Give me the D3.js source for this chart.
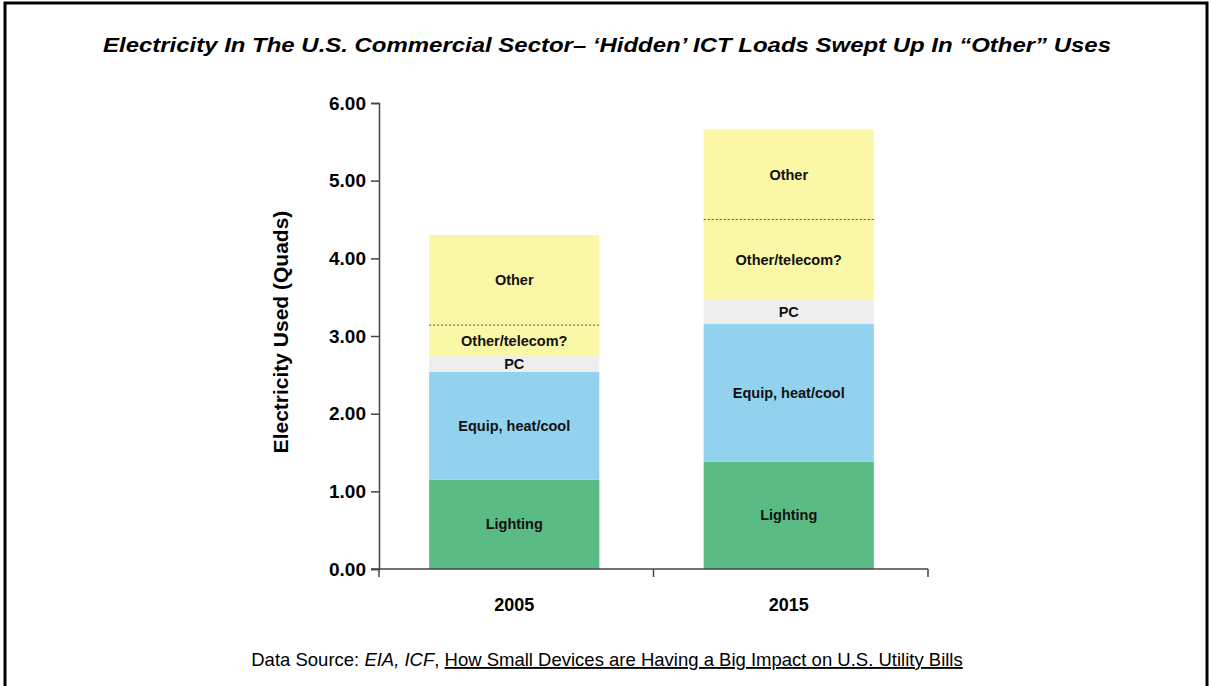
<!DOCTYPE html>
<html>
<head>
<meta charset="utf-8">
<script src="https://cdn.jsdelivr.net/npm/d3@7"></script>
<style>
  html, body { margin: 0; padding: 0; background: #fff; }
  svg { display: block; font-family: "Liberation Sans", Arial, Helvetica, sans-serif; }
</style>
</head>
<body>
<svg id="chart" width="1209" height="686"></svg>
<script>
// Commercial-sector electricity use by end use (quads)
const years = ["2005", "2015"];
const lighting = [1.15, 1.38];
const equipHeatCool = [1.39, 1.78];
const pc = [0.20, 0.31];
const otherTelecom = [0.40, 1.03];
const other = [1.16, 1.16];

const seriesKeys = ["lighting", "equip", "pc", "otherTelecom", "other"];
const seriesLabels = ["Lighting", "Equip, heat/cool", "PC", "Other/telecom?", "Other"];
const seriesColors = ["#5bbb85", "#92d2ee", "#eeeeee", "#faf7a7", "#faf7a7"];
const yTicks = [0, 1, 2, 3, 4, 5, 6];

const rows = years.map((y, i) => ({
  year: y,
  lighting: lighting[i],
  equip: equipHeatCool[i],
  pc: pc[i],
  otherTelecom: otherTelecom[i],
  other: other[i]
}));

const svg = d3.select("#chart");

// Frame
svg.append("rect")
  .attr("x", 5).attr("y", 3)
  .attr("width", 1202).attr("height", 700)
  .attr("fill", "none").attr("stroke", "#000").attr("stroke-width", 3);

// Title
svg.append("text")
  .attr("x", 607).attr("y", 52)
  .attr("text-anchor", "middle")
  .attr("font-size", 21).attr("font-weight", "bold").attr("font-style", "italic")
  .attr("textLength", 1008).attr("lengthAdjust", "spacingAndGlyphs")
  .attr("fill", "#000")
  .text("Electricity In The U.S. Commercial Sector\u2013 \u2018Hidden\u2019 ICT Loads Swept Up In \u201COther\u201D Uses");

const x = d3.scaleBand().domain(years).range([379, 928]).padding(0);
const y = d3.scaleLinear().domain([0, 6]).range([569, 103]);
const barW = x.bandwidth() * 0.62;
const barX = d => x(d) + (x.bandwidth() - barW) / 2 - 2;

const stacked = d3.stack().keys(seriesKeys)(rows);

const g = svg.append("g");
stacked.forEach((layer, li) => {
  layer.forEach(seg => {
    const yr = seg.data.year;
    g.append("rect")
      .attr("x", barX(yr))
      .attr("y", y(seg[1]))
      .attr("width", barW)
      .attr("height", y(seg[0]) - y(seg[1]))
      .attr("fill", seriesColors[li]);
  });
});

// Dashed divider between "Other/telecom?" and "Other"
stacked[4].forEach(seg => {
  const yr = seg.data.year;
  g.append("line")
    .attr("x1", barX(yr)).attr("x2", barX(yr) + barW)
    .attr("y1", y(seg[0])).attr("y2", y(seg[0]))
    .attr("stroke", "#555").attr("stroke-width", 1)
    .attr("stroke-dasharray", "2,2");
});

// Segment labels
stacked.forEach((layer, li) => {
  layer.forEach(seg => {
    const yr = seg.data.year;
    g.append("text")
      .attr("x", barX(yr) + barW / 2)
      .attr("y", (y(seg[0]) + y(seg[1])) / 2)
      .attr("dy", "0.35em")
      .attr("text-anchor", "middle")
      .attr("font-size", 14.5).attr("font-weight", "bold")
      .attr("fill", "#111")
      .text(seriesLabels[li]);
  });
});

// Y axis
const yAxis = svg.append("g")
  .attr("transform", "translate(379,0)")
  .call(d3.axisLeft(y).tickValues(yTicks).tickFormat(d3.format(".2f")).tickSizeOuter(0).tickSize(8));
yAxis.select(".domain").attr("stroke", "#444").attr("stroke-width", 1.5);
yAxis.selectAll(".tick line").attr("stroke", "#444").attr("stroke-width", 1.5);
yAxis.selectAll(".tick text")
  .attr("font-size", 19).attr("font-weight", "bold")
  .attr("font-family", "'Liberation Sans', Arial, sans-serif")
  .attr("fill", "#000").attr("x", -13);

// X axis with ticks at band edges
const xg = svg.append("g").attr("transform", "translate(0,569)");
xg.append("line")
  .attr("x1", 371).attr("x2", 928)
  .attr("stroke", "#444").attr("stroke-width", 1.5);
const edges = [x.range()[0]].concat(years.map(d => x(d) + x.bandwidth()));
xg.selectAll(".edge").data(edges).join("line")
  .attr("x1", d => d).attr("x2", d => d)
  .attr("y1", 0).attr("y2", 8)
  .attr("stroke", "#444").attr("stroke-width", 1.5);
xg.selectAll(".yr").data(years).join("text")
  .attr("x", d => x(d) + x.bandwidth() / 2 - 2)
  .attr("y", 42)
  .attr("text-anchor", "middle")
  .attr("font-size", 18).attr("font-weight", "bold")
  .attr("fill", "#000")
  .text(d => d);

// Y axis title
svg.append("text")
  .attr("transform", "translate(288,332) rotate(-90)")
  .attr("text-anchor", "middle")
  .attr("font-size", 21).attr("font-weight", "bold")
  .attr("fill", "#000")
  .text("Electricity Used (Quads)");

// Source line
const src = svg.append("text")
  .attr("x", 607).attr("y", 666)
  .attr("text-anchor", "middle")
  .attr("font-size", 18.5).attr("fill", "#000");
src.append("tspan").text("Data Source: ");
src.append("tspan").attr("font-style", "italic").text("EIA, ICF");
src.append("tspan").text(", ");
src.append("tspan").attr("text-decoration", "underline")
  .text("How Small Devices are Having a Big Impact on U.S. Utility Bills");
</script>
</body>
</html>
